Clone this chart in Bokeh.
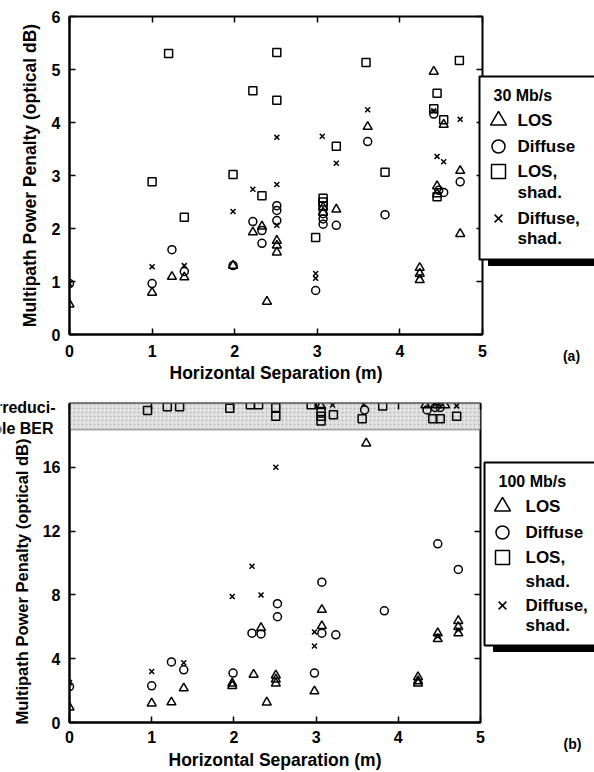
import math
from bokeh.plotting import figure
from bokeh.models import LinearAxis, FixedTicker, BoxAnnotation, Label, Range1d, GridBox
from bokeh.layouts import column
from bokeh.embed import file_html
from bokeh.resources import INLINE

FONT = "Liberation Sans"

# ---------------- (a) 30 Mb/s ----------------
a_los_x = [0, 1.0, 1.24, 1.39, 1.98, 2.22, 2.33, 2.39, 2.51, 2.51, 2.51, 3.07, 3.07, 3.23,
           3.61, 4.24, 4.24, 4.24, 4.41, 4.53, 4.45, 4.45, 4.73, 4.73]
a_los_y = [0.57, 0.79, 1.09, 1.08, 1.30, 1.93, 2.04, 0.62, 1.77, 1.68, 1.55, 2.40, 2.30, 2.36,
           3.92, 1.26, 1.15, 1.03, 4.96, 3.96, 2.80, 2.65, 3.09, 1.90]

a_diff_x = [0, 1.0, 1.24, 1.39, 1.98, 2.22, 2.33, 2.33, 2.51, 2.51, 2.51, 2.98, 3.07, 3.07,
            3.07, 3.23, 3.61, 3.82, 4.41, 4.47, 4.53, 4.73]
a_diff_y = [0.96, 0.96, 1.60, 1.19, 1.30, 2.13, 1.96, 1.72, 2.43, 2.34, 2.15, 0.83, 2.28, 2.18,
            2.08, 2.06, 3.64, 2.26, 4.16, 2.72, 2.68, 2.88]

a_los_shad_x = [1.0, 1.20, 1.39, 1.98, 2.22, 2.33, 2.51, 2.51, 2.98, 3.07, 3.07, 3.07, 3.23,
                3.59, 3.82, 4.41, 4.45, 4.53, 4.45, 4.72]
a_los_shad_y = [2.88, 5.30, 2.21, 3.02, 4.60, 2.62, 5.32, 4.42, 1.83, 2.57, 2.50, 2.43, 3.55,
                5.13, 3.06, 4.26, 4.55, 4.05, 2.60, 5.17]

a_diff_shad_x = [0, 1.0, 1.39, 1.98, 2.22, 2.51, 2.51, 2.51, 2.98, 2.98, 3.06, 3.23, 3.61,
                 4.24, 4.41, 4.45, 4.53, 4.73]
a_diff_shad_y = [0.96, 1.28, 1.30, 2.32, 2.74, 3.72, 2.83, 2.06, 1.15, 1.06, 3.74, 3.23, 4.24,
                 1.10, 4.22, 3.36, 3.26, 4.06]

# ---------------- (b) 100 Mb/s ----------------
b_los_x = [0, 1.0, 1.24, 1.39, 1.98, 1.98, 2.24, 2.33, 2.40, 2.51, 2.51, 2.51, 2.98, 3.07,
           3.07, 3.61, 4.24, 4.24, 4.24, 4.48, 4.48, 4.73, 4.73, 4.73, 3.06, 4.33, 4.57, 4.47]
b_los_y = [0.95, 1.20, 1.27, 2.15, 2.45, 2.30, 3.00, 5.93, 1.26, 2.96, 2.70, 2.45, 1.96, 7.07,
           6.05, 17.5, 2.85, 2.60, 2.45, 5.60, 5.24, 6.37, 6.00, 5.60, 19.85, 19.9, 19.9, 19.9]

b_diff_x = [0, 1.0, 1.24, 1.39, 1.99, 2.22, 2.33, 2.53, 2.53, 2.98, 3.07, 3.07, 3.24, 3.83,
            4.48, 4.73, 3.59, 4.35, 4.45, 4.51]
b_diff_y = [2.25, 2.30, 3.80, 3.30, 3.10, 5.60, 5.55, 7.45, 6.63, 3.10, 8.80, 5.60, 5.50, 7.00,
            11.2, 9.60, 19.6, 19.6, 19.75, 19.75]

b_los_shad_x = [0.95, 1.19, 1.34, 1.95, 2.20, 2.30, 2.51, 2.51, 2.94, 3.06, 3.06, 3.06, 3.21,
                3.56, 3.81, 4.42, 4.51, 4.71]
b_los_shad_y = [19.56, 19.80, 19.80, 19.70, 19.92, 19.92, 19.75, 19.2, 19.92, 19.5, 19.2, 18.9,
                19.3, 19.05, 19.85, 19.05, 19.05, 19.2]

b_diff_shad_x = [0, 1.0, 1.39, 1.98, 2.22, 2.33, 2.51, 2.98, 2.98, 3.20, 3.58, 4.45, 4.71,
                 4.48, 4.73]
b_diff_shad_y = [2.50, 3.20, 3.75, 7.90, 9.80, 8.00, 16.0, 5.68, 4.80, 19.9, 19.95, 19.95,
                 19.85, 5.40, 5.80]

# band where the BER floor could not be reached
b_irreducible_lo = 18.35
b_irreducible_hi = 20.0

x_ticks = [0, 1, 2, 3, 4, 5]
a_y_ticks = [0, 1, 2, 3, 4, 5, 6]
b_y_ticks = [0, 4, 8, 12, 16]

x_title = "Horizontal Separation (m)"
y_title = "Multipath Power Penalty (optical dB)"

series_markers = ["triangle", "circle", "square", "x"]
plot_sizes = [9, 8, 8, 7]
key_sizes = [16, 13, 14, 11]
legend_lines = [["LOS"], ["Diffuse"], ["LOS,", "shad."], ["Diffuse,", "shad."]]

W, H = 594, 772


def make_panel(bl, fw, bt, fh, bb, y_end, y_ticks, tick_gap, title_gap, show_ytitle=True):
    p = figure(frame_width=fw, frame_height=fh,
               min_border_left=bl, min_border_right=W - bl - fw,
               min_border_top=bt, min_border_bottom=bb,
               x_range=Range1d(0, 5), y_range=Range1d(0, y_end),
               output_backend="svg", toolbar_location=None)
    p.xgrid.visible = False
    p.ygrid.visible = False
    p.outline_line_color = "black"
    p.outline_line_width = 2
    p.xaxis.ticker = FixedTicker(ticks=x_ticks)
    p.yaxis.ticker = FixedTicker(ticks=y_ticks)
    p.xaxis.axis_label = x_title
    if show_ytitle:
        p.yaxis.axis_label = y_title
    for ax in (p.xaxis[0], p.yaxis[0]):
        ax.axis_line_width = 2
        ax.axis_line_color = "black"
        ax.major_tick_in = 6
        ax.major_tick_out = 0
        ax.major_tick_line_width = 1.5
        ax.minor_tick_line_color = None
        ax.major_label_text_font = FONT
        ax.major_label_text_font_style = "bold"
        ax.major_label_text_font_size = "16px"
        ax.major_label_text_color = "black"
        ax.axis_label_text_font = FONT
        ax.axis_label_text_font_style = "bold"
        ax.axis_label_text_font_size = "17.5px"
        ax.axis_label_text_color = "black"
    p.xaxis[0].major_label_standoff = tick_gap
    p.xaxis[0].axis_label_standoff = title_gap
    p.yaxis[0].major_label_standoff = 9
    p.yaxis[0].axis_label_standoff = 9
    # inward ticks along the top and right edges of the frame
    for side, tk in (("above", x_ticks), ("right", y_ticks)):
        ax = LinearAxis(ticker=FixedTicker(ticks=tk), major_label_text_font_size="0px",
                        major_label_text_color=None, major_label_standoff=0,
                        axis_line_color=None, major_tick_in=6, major_tick_out=0,
                        major_tick_line_width=1.5, minor_tick_line_color=None)
        p.add_layout(ax, side)
    return p


def add_series(p, xs_list, ys_list):
    for marker, size, xs, ys in zip(series_markers, plot_sizes, xs_list, ys_list):
        p.scatter(xs, ys, marker=marker, size=size, fill_color=None,
                  line_color="black", line_width=1.5)


# ---- panel (a): 62 | 413 | 119 px, 16 / 318 / 56 px
pa = make_panel(62, 413, 16, 318, 56, 6, a_y_ticks, 10, 3)
add_series(pa, [a_los_x, a_diff_x, a_los_shad_x, a_diff_shad_x],
           [a_los_y, a_diff_y, a_los_shad_y, a_diff_shad_y])

# ---- panel (b): 69 | 411 | 114 px, 13 / 319 / 50 px
pb = make_panel(69, 411, 13, 319, 50, 20, b_y_ticks, 8, 4, show_ytitle=False)
pb.add_layout(BoxAnnotation(bottom=b_irreducible_lo, top=b_irreducible_hi + 1,
                            fill_color="#e2e2e2", fill_alpha=1, hatch_pattern="dot",
                            hatch_color="#9a9a9a", hatch_scale=4, hatch_alpha=0.6,
                            line_color="black", line_width=1.5, level="underlay"))
add_series(pb, [b_los_x, b_diff_x, b_los_shad_x, b_diff_shad_x],
           [b_los_y, b_diff_y, b_los_shad_y, b_diff_shad_y])

# ---- transparent page-sized layer for keys and margin texts (page pixels, y down)
ov = figure(frame_width=W, frame_height=H, min_border=0,
            x_range=Range1d(0, W), y_range=Range1d(0, H),
            x_axis_location=None, y_axis_location=None, output_backend="svg",
            toolbar_location=None, background_fill_color=None, border_fill_color=None)
ov.xgrid.visible = False
ov.ygrid.visible = False
ov.outline_line_color = None


def put_text(x, y, s, size="17px", align="left", angle=0.0):
    ov.add_layout(Label(x=x, y=H - y, text=s, text_font=FONT, text_font_style="bold",
                        text_font_size=size, text_align=align, text_baseline="middle",
                        text_color="black", angle=angle))


def key_box(left, top, bottom, title, title_dx, sym_dx, text_dx, rows):
    ov.quad(left=[left + 9], right=[W + 40], top=[H - (top + 9)], bottom=[H - (bottom + 6)],
            fill_color="black", line_color="black")
    ov.quad(left=[left], right=[W + 30], top=[H - top], bottom=[H - bottom],
            fill_color="white", line_color="black", line_width=2)
    put_text(left + title_dx, top + 19, title, size="16px")
    for marker, size, lines, ys in zip(series_markers, key_sizes, legend_lines, rows):
        ov.scatter([left + sym_dx], [H - (top + ys[0])], marker=marker, size=size,
                   fill_color=None, line_color="black", line_width=1.5)
        for ln, yy in zip(lines, ys):
            put_text(left + text_dx, top + yy, ln)


key_box(479, 76, 259, "30 Mb/s", 14, 19, 38, [[44], [70], [95, 116], [142, 162]])
key_box(484, 462, 645, "100 Mb/s", 14, 18, 41, [[44], [70], [95, 119], [143, 163]])
put_text(571, 355, "(a)", size="14px", align="center")
put_text(572, 743, "(b)", size="14px", align="center")
put_text(55, 407, "Irreduci-", size="16px", align="right")
put_text(53, 428, "ble BER", size="16px", align="right")
put_text(21, 581, y_title, size="16.5px", align="center", angle=math.pi / 2)

panels = column(pa, pb, spacing=0)
layout = GridBox(children=[(panels, 0, 0), (ov, 0, 0)], spacing=0)
open("out.html", "w").write(file_html(layout, INLINE))
